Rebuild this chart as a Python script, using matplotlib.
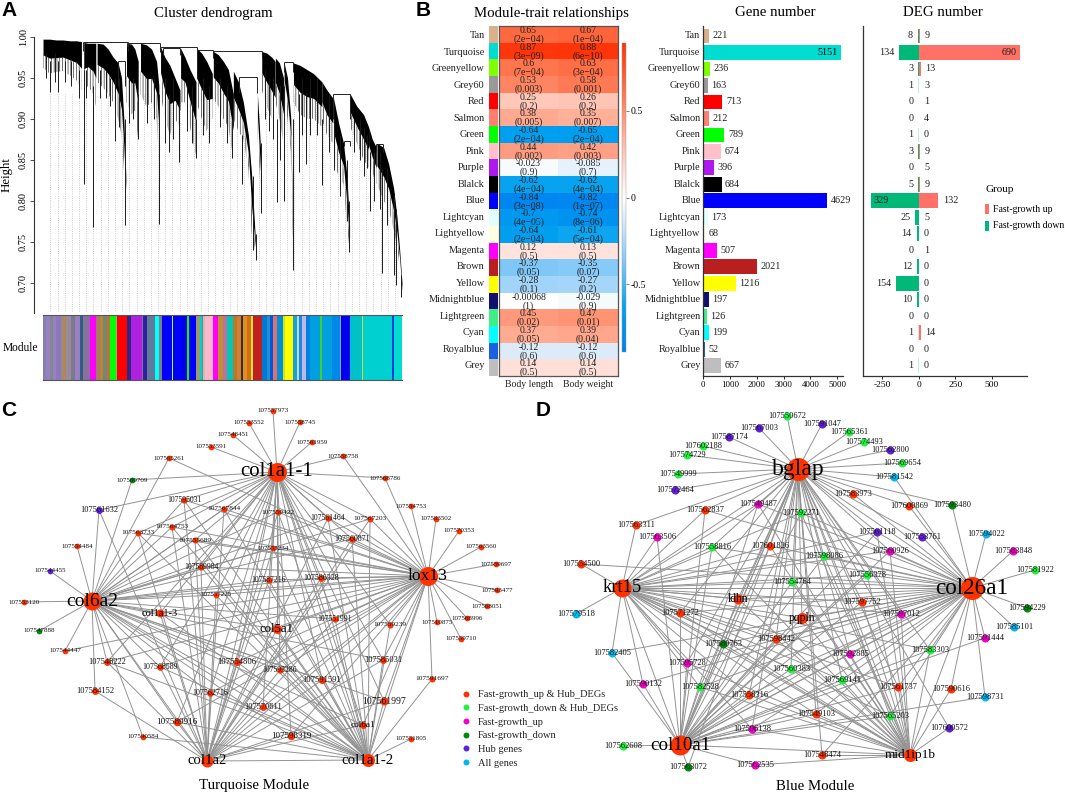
import numpy as np
import matplotlib
matplotlib.use('Agg')
import matplotlib.pyplot as plt
from matplotlib.collections import LineCollection
from matplotlib.colors import LinearSegmentedColormap, Normalize
from matplotlib.cm import ScalarMappable
from matplotlib.lines import Line2D

plt.rcParams['font.family'] = ['Liberation Serif', 'DejaVu Serif']
plt.rcParams['hatch.linewidth'] = 0.5

W, H = 1065, 795

clusters_x = [
    [130, 150, 170, 190, 210, 230, 245], [252, 265, 280, 288],
    [292, 310, 325, 340, 355, 365, 372, 378], [380, 395, 405, 415],
    [422, 440, 455, 470, 477], [482, 495, 510, 525, 540], [542, 555, 570, 588],
    [590, 605, 620, 637], [640, 655, 670, 685, 700],
    [700, 715, 730, 745, 755, 765, 770], [772, 778, 783], [785, 800, 815, 825],
    [826, 838, 850], [852, 862, 872, 878], [880, 900, 920, 940, 965],
    [965, 980, 998], [1000, 1015, 1030, 1040, 1048], [1050, 1070, 1090, 1105],
    [1105, 1116, 1128], [1130, 1150, 1165, 1180, 1190, 1198, 1205]]
clusters_top = [
    [.997, .997, .996, .996, .995, .995, .994], [.993, .992, .992, .992],
    [.992, .991, .985, .975, .968, .950, .900, .830], [.992, .991, .985, .970],
    [.992, .990, .985, .970, .940], [.988, .975, .965, .950, .935], [.986, .975, .960, .945],
    [.986, .980, .970, .955], [.982, .978, .970, .960, .930],
    [.958, .945, .920, .880, .830, .760, .730], [.930, .890, .850], [.982, .980, .975, .970],
    [.974, .968, .950], [.968, .950, .900, .750], [.968, .965, .960, .955, .945],
    [.945, .935, .925], [.925, .895, .870, .830, .770], [.930, .915, .905, .890],
    [.890, .875, .865], [.870, .865, .845, .815, .780, .740, .700]]
clusters_bot = [
    [.962, .955, .957, .958, .953, .947, .935], [.935, .940, .930, .915],
    [.945, .938, .930, .920, .900, .880, .840, .800], [.920, .905, .910, .875],
    [.930, .915, .920, .900, .850], [.930, .900, .880, .900, .890], [.920, .920, .890, .855],
    [.920, .900, .885, .900], [.925, .915, .900, .890, .850],
    [.900, .885, .875, .840, .760, .740, .730], [.880, .840, .800], [.935, .915, .900, .890],
    [.920, .900, .870], [.930, .900, .860, .720], [.920, .905, .900, .900, .890],
    [.900, .880, .870], [.850, .830, .820, .770, .740], [.890, .870, .850, .840],
    [.850, .835, .820], [.820, .800, .790, .765, .745, .720, .683]]
spike_x = [252, 281, 376, 476, 768, 878, 1047, 1146, 1180, 1188, 1203, 830, 851, 965, 725, 783, 760,
           152, 175, 237, 280, 345, 415, 508, 538, 588, 695, 897, 917, 1000, 1018, 1110, 1040, 1100,
           140, 165, 195, 215, 258, 300, 318, 330, 358, 388, 400, 440, 462, 495, 520, 560, 575, 610,
           628, 660, 680, 795, 808, 820, 840, 905, 930, 950, 985, 1062, 1078, 1090, 1122, 1138, 1160]
spike_low = [.820, .768, .770, .772, .728, .715, .737, .712, .710, .697, .682, .798, .800, .819, .820, .785, .740,
             .932, .932, .925, .900, .873, .875, .860, .847, .852, .852, .835, .845, .838, .806, .787, .775, .840,
             .950, .945, .945, .940, .925, .925, .925, .915, .890, .895, .900, .895, .900, .870, .875, .885, .870, .880,
             .870, .890, .870, .900, .885, .875, .850, .880, .880, .880, .860, .860, .850, .830, .800, .790, .770]
spike_high = [.960, .930, .900, .930, .760, .900, .800, .840, .810, .790, .710, .900, .940, .900, .880, .870, .830,
              .970, .970, .960, .940, .950, .930, .930, .920, .900, .900, .930, .930, .900, .880, .860, .850, .880,
              .980, .980, .970, .970, .960, .960, .960, .950, .950, .950, .950, .950, .950, .950, .950, .940, .940, .950,
              .940, .950, .940, .960, .950, .950, .940, .950, .950, .950, .930, .900, .900, .890, .860, .860, .840]
merge_x0 = [250, 380, 480, 590, 640, 717, 998, 1128, 1030, 355, 851, 490]
merge_x1 = [385, 480, 590, 640, 785, 770, 1050, 1148, 1048, 375, 880, 540]
merge_h = [.993, .992, .987, .984, .982, .951, .930, .869, .873, .970, .969, .986]
merge_drop = [.010, .004, .006, .004, .008, .020, .030, .010, .006, .030, .012, .008]

strip_edges = [130, 135, 140, 150, 160, 170, 185, 195, 200, 215, 225, 240, 250, 270, 290, 300, 310, 322, 330,
               348, 352, 382, 395, 425, 430, 440, 465, 478, 487, 515, 518, 545, 562, 568, 587, 600, 605, 610,
               615, 638, 655, 670, 680, 698, 710, 722, 728, 740, 752, 760, 785, 800, 810, 820, 830, 848, 855,
               878, 890, 897, 905, 917, 930, 958, 965, 995, 1018, 1022, 1050, 1085, 1088, 1150, 1152, 1175,
               1180, 1205]
strip_colors = ['#8f78b8', '#6f8fa8', '#9a80c0', '#808890', '#9a80c0', '#8c78c0', '#a08a70', '#c08040', '#9a8a9a',
                '#7a7a90', '#9a80c0', '#306080', '#8a70a0', '#ff00ff', '#a08060', '#c08040', '#708a70', '#c07040',
                '#00ff00', '#a0a0a0', '#ff0000', '#2a2a80', '#b020e0', '#8a70a0', '#3020a0', '#607a9a', '#00ffff',
                '#808080', '#0000ff', '#b0ff30', '#0000ff', '#0000e8', '#00ff00', '#0000ff', '#9a9a70', '#00d0d0',
                '#808080', '#c0c0c0', '#ffb6c8', '#ff00ff', '#c09030', '#c070a0', '#00c8b8', '#b87830', '#d08030',
                '#303030', '#e09020', '#d07010', '#f0e040', '#c02020', '#0078d8', '#2090d0', '#0058e0', '#e07070',
                '#0090d8', '#d8e020', '#ffff00', '#20a0d0', '#b0e0f0', '#2088e0', '#c0b8e8', '#0080e0', '#00a0e0',
                '#40d030', '#00a0e0', '#0088e8', '#a0a0b0', '#0000f0', '#00c0c8', '#c0e040', '#00d0d0', '#204040',
                '#00d0d0', '#0040e0', '#00ddd0']

# ---- B: modules
modules = ['Tan', 'Turquoise', 'Greenyellow', 'Grey60', 'Red', 'Salmon', 'Green', 'Pink', 'Purple', 'Blalck', 'Blue',
           'Lightcyan', 'Lightyellow', 'Magenta', 'Brown', 'Yellow', 'Midnightblue', 'Lightgreen', 'Cyan',
           'Royalblue', 'Grey']
module_colors = ['#d9b08c', '#00dccf', '#80ff00', '#999999', '#ff0000', '#ff8070', '#00ff00', '#ffc0cb', '#b018f0',
                 '#000000', '#0000ff', '#e0ffff', '#ffffe0', '#ff00ff', '#b82020', '#ffff00', '#101070', '#40ee88',
                 '#00ffff', '#1a60e0', '#bebebe']
length_r = [0.65, 0.87, 0.6, 0.53, 0.25, 0.38, -0.64, 0.44, -0.023, -0.62, -0.84, -0.7, -0.64, 0.12, -0.37, -0.28,
            -0.00068, 0.45, 0.37, -0.12, 0.14]
length_p = ['2e\u221204', '3e\u221209', '7e\u221204', '0.003', '0.2', '0.005', '2e\u221204', '0.002', '0.9', '4e\u221204',
            '3e\u221208', '4e\u221205', '2e\u221204', '0.5', '0.05', '0.1', '1', '0.02', '0.05', '0.6', '0.5']
weight_r = [0.67, 0.88, 0.63, 0.58, 0.26, 0.35, -0.65, 0.42, -0.085, -0.62, -0.82, -0.74, -0.61, 0.13, -0.35, -0.27,
            -0.029, 0.47, 0.39, -0.12, 0.14]
weight_p = ['1e\u221204', '6e\u221210', '3e\u221204', '0.001', '0.2', '0.007', '2e\u221204', '0.003', '0.7', '4e\u221204',
            '1e\u221207', '8e\u221206', '5e\u221204', '0.5', '0.07', '0.2', '0.9', '0.01', '0.04', '0.6', '0.5']
traits = ['Body length', 'Body weight']
gene_number = [221, 5151, 236, 163, 713, 212, 789, 674, 396, 684, 4629, 173, 68, 507, 2021, 1216, 197, 126, 199, 52, 667]
deg_up = [9, 690, 13, 3, 1, 4, 0, 9, 5, 9, 132, 5, 0, 1, 0, 0, 0, 0, 14, 0, 0]
deg_down = [8, 134, 3, 1, 0, 0, 1, 3, 0, 5, 329, 25, 14, 0, 12, 154, 10, 0, 1, 0, 1]

# ---- C, D: networks. links: which hubs a gene is tied to (a-e, the first five hubs)
c_hubs = ['col1a1-1', 'lox13', 'col6a2', 'col1a2', 'col1a1-2', 'col5a1', 'col1a1-3', 'col6a1']
c_hub_x = [277, 428, 92, 207, 368, 277, 160, 363]
c_hub_y = [472, 576, 601, 761, 760, 629, 613, 725]
c_hub_d = [19, 19, 18, 12, 13, 9, 8, 7]
c_hub_font = [15, 12.6, 14, 10.6, 10.7, 9.2, 7.5, 6.6]

c_names = ['107553120', '107547888', '107544455', '107554484', '107569709', '107561632', '107565261', '107553591',
           '107548451', '107553552', '107557973', '107558745', '107561959', '107558758', '107568786', '107554753',
           '107583502', '107570353', '107563560', '107559697', '107593477', '107568051', '107568996', '107559710',
           '107510875', '107559239', '107551991', '107585031', '107591697', '107561997', '107551805', '107591591',
           '107593286', '107570611', '107598319', '107589916', '107590584', '107584152', '107548222', '107544447',
           '107568589', '107562716', '107554806', '107557225', '107589984', '107555689', '107564753', '107563733',
           '107595031', '107567844', '107559422', '107553234', '107587216', '107561464', '107567203', '107560871',
           '107586328']
c_x = [24, 39, 50, 77, 132, 99, 169, 211, 233, 249, 273, 300, 312, 343, 385, 411, 436, 459, 481, 496, 497, 487, 467,
       461, 437, 390, 335, 383, 432, 384, 411, 322, 280, 263, 291, 177, 143, 95, 107, 65, 160, 210, 237, 216, 201, 195,
       172, 138, 184, 224, 278, 273, 269, 328, 370, 352, 321]
c_y = [602, 631, 571, 546, 480, 510, 458, 447, 435, 423, 411, 422, 442, 456, 478, 506, 519, 531, 547, 564, 590, 606,
       618, 639, 622, 625, 619, 660, 679, 701, 739, 680, 670, 707, 736, 722, 737, 691, 662, 651, 667, 693, 662, 595,
       567, 540, 527, 533, 500, 509, 512, 548, 580, 518, 519, 539, 578]
c_groups = ['up_hub', 'down', 'hub', 'up_hub', 'down', 'hub'] + ['up_hub'] * 51
c_links = ['c', 'c', 'c', 'c', 'ac', 'acd', 'cb', 'a', 'a', 'a', 'a', 'a', 'a', 'ab', 'ab', 'b',
           'b', 'b', 'b', 'b', 'b', 'b', 'b', 'b', 'b', 'abe', 'abcde', 'abcde', 'be', 'abcde', 'e', 'abcde',
           'abcde', 'abcde', 'abcde', 'abcde', 'ce', 'cd', 'abcde', 'cb', 'abcde', 'abcde', 'abcde', 'abcde', 'abcde',
           'abcde', 'abcde', 'abcde', 'abcde', 'abcde', 'abcde', 'abcde', 'abcde', 'abcde', 'abcde', 'abcde', 'abcde']
c_font = [5, 5, 5, 5, 5, 6, 5, 5, 5, 5, 5, 5, 5, 5, 5, 5, 5, 5, 5, 5, 5, 5, 5, 5, 5, 5.3, 5.5, 6, 5.3, 7, 5, 6.2,
          5.5, 6, 6.5, 6.6, 5, 6, 6, 5, 5.8, 5.8, 6.2, 5, 5.5, 5.3, 5.3, 5.3, 5.5, 5.3, 5.3, 5, 5.5, 5.5, 5.3, 5.8, 5.8]

d_hubs = ['bglap', 'krt15', 'col26a1', 'col10a1', 'mid1ip1b', 'ldhn', 'pqpln']
d_hub_x = [798, 622, 972, 680, 910, 738, 802]
d_hub_y = [469, 588, 588, 745, 755, 599, 618]
d_hub_d = [23, 18, 23, 20, 13, 10, 11]
d_hub_font = [17, 13.3, 16.7, 13.7, 9.5, 8.4, 8.4]

d_names = ['107550672', '107567003', '107587174', '107602188', '107574729', '107549999', '107572464', '107562837',
           '107549487', '107592271', '107563311', '107563506', '107558816', '107601826', '107554500', '107554764',
           '107579518', '107571272', '107580763', '107598442', '107582405', '107595728', '107590132', '107582528',
           '107558316', '107560383', '107596138', '107562608', '107563072', '107562535', '107591047', '107565361',
           '107574493', '107562800', '107569654', '107581542', '107583973', '107600869', '107593480', '107561118',
           '107553761', '107594022', '107583848', '107581922', '107560926', '107598086', '107556378', '107594229',
           '107597752', '107597012', '107585101', '107591444', '107583303', '107592885', '107569141', '107561737',
           '107590616', '107598731', '107565203', '107549103', '107600572', '107548474']
d_x = [787, 759, 729, 703, 687, 678, 675, 705, 758, 801, 636, 657, 712, 770, 581, 792, 576, 680, 723, 776, 612, 687,
       643, 700, 749, 791, 752, 623, 688, 755, 822, 849, 864, 890, 902, 894, 853, 909, 952, 877, 922, 986, 1013, 1035,
       890, 824, 867, 1027, 862, 901, 1014, 985, 930, 850, 842, 898, 951, 985, 890, 816, 949, 822]
d_y = [416, 428, 437, 446, 455, 474, 490, 510, 504, 513, 525, 537, 547, 546, 564, 582, 614, 613, 644, 639, 653, 663,
       684, 687, 695, 669, 729, 746, 767, 765, 424, 432, 442, 450, 463, 477, 494, 506, 505, 532, 537, 534, 551, 570,
       551, 556, 575, 608, 602, 614, 627, 638, 650, 654, 680, 687, 689, 697, 716, 714, 728, 755]
d_groups = ['down_hub', 'hub', 'hub', 'down_hub', 'down_hub', 'down_hub', 'hub', 'up_hub', 'up', 'down_hub', 'up_hub',
            'up', 'down_hub', 'up_hub', 'up_hub', 'down_hub', 'all', 'up_hub', 'down', 'up_hub', 'all', 'up', 'up',
            'down_hub', 'up_hub', 'down_hub', 'up', 'down_hub', 'down', 'up', 'hub', 'down_hub', 'down_hub', 'hub',
            'down_hub', 'all', 'up_hub', 'up_hub', 'down', 'hub', 'hub', 'all', 'up', 'down_hub', 'up', 'down_hub',
            'down_hub', 'down', 'up_hub', 'up', 'all', 'up', 'down_hub', 'up', 'down_hub', 'up_hub', 'up_hub', 'all',
            'down_hub', 'up_hub', 'hub', 'up_hub']
d_links = ['a', 'a', 'a', 'a', 'a', 'a', 'a', 'abcd', 'abcde', 'abcde', 'ab', 'bd', 'abcde', 'abcde', 'bc', 'abcde',
           'b', 'abcde', 'abcde', 'abcde', 'bdc', 'abcde', 'bdc', 'abcde', 'abcde', 'abcde', 'abcde', 'd', 'da', 'de',
           'a', 'a', 'a', 'a', 'a', 'ac', 'ac', 'ac', 'ac', 'abcde', 'ac', 'c', 'c', 'c', 'abcde', 'abcde', 'abcde',
           'c', 'abcde', 'abcde', 'c', 'cd', 'abcde', 'abcde', 'abcde', 'abcde', 'ce', 'cd', 'abcde', 'abcde', 'ae',
           'ace']
d_font = [6] * 62

group_keys = ['up_hub', 'down_hub', 'up', 'down', 'hub', 'all']
group_labels = ['Fast-growth_up & Hub_DEGs', 'Fast-growth_down & Hub_DEGs', 'Fast-growth_up', 'Fast-growth_down',
                'Hub genes', 'All genes']
group_colors = ['#ff3300', '#22f040', '#f000c8', '#008a10', '#6020d8', '#00b8f0']
group_color = dict(zip(group_keys, group_colors))

# heatmap colours picked from the cells, not a stock map
heat_max = 0.89
heat_stops = [(-0.89, '#0080f0'), (-0.64, '#00a0f0'), (-0.37, '#80c8f8'), (-0.12, '#dcecfb'), (0, '#ffffff'),
              (0.14, '#ffe0d8'), (0.25, '#ffc8b8'), (0.45, '#ff9a7c'), (0.65, '#ff6a40'), (0.89, '#ff3308')]
heat_cmap = LinearSegmentedColormap.from_list(
    'heat', [((v + heat_max) / (2 * heat_max), c) for v, c in heat_stops])
heat_norm = Normalize(-heat_max, heat_max)


def axes_px(x0, y0, x1, y1):
    return fig.add_axes([x0 / W, 1 - y1 / H, (x1 - x0) / W, (y1 - y0) / H])


def draw_network(ax, hub_names, hub_x, hub_y, hub_d, hub_font, names, xs, ys, groups, links, fonts, node_scale):
    segs = []
    hub_codes = 'abcde'
    for i in range(len(names)):
        for code in links[i]:
            h = hub_codes.index(code)
            segs.append([(xs[i], ys[i]), (hub_x[h], hub_y[h])])
    # hubs are also tied to each other
    for i in range(len(hub_names)):
        for j in range(i + 1, len(hub_names)):
            if j < 5 or i < 5:
                segs.append([(hub_x[i], hub_y[i]), (hub_x[j], hub_y[j])])
    ax.add_collection(LineCollection(segs, colors='#939393', linewidths=0.7, zorder=1))
    for i in range(len(names)):
        d = fonts[i] * node_scale * 0.72
        ax.scatter(xs[i], ys[i], s=d ** 2, color=group_color[groups[i]], linewidths=0, zorder=2)
        ax.text(xs[i], ys[i], names[i], fontsize=fonts[i], ha='center', va='center', color='#111111', zorder=3)
    for i in range(len(hub_names)):
        d = hub_d[i] * 0.72
        ax.scatter(hub_x[i], hub_y[i], s=d ** 2, color=group_color['up_hub'], linewidths=0, zorder=2)
        ax.text(hub_x[i], hub_y[i], hub_names[i], fontsize=hub_font[i], ha='center', va='center', color='black',
                zorder=3)


fig = plt.figure(figsize=(W / 100, H / 100), dpi=100)
dark = '#333333'

# overlay in figure pixels for networks and free text
ov = fig.add_axes([0, 0, 1, 1], zorder=5)
ov.set_xlim(0, W)
ov.set_ylim(H, 0)
ov.axis('off')
ov.patch.set_alpha(0)

for label, x, y in [('A', 9, 11), ('B', 423, 11), ('C', 9, 411), ('D', 543, 411)]:
    ov.text(x, y, label, fontsize=15, fontweight='bold', family='Liberation Sans', ha='center', va='center')
for label, x, y in [('Cluster dendrogram', 213, 13), ('Module-trait relationships', 551, 14), ('Gene number', 775, 13),
                    ('DEG number', 943, 13), ('Turquoise Module', 254, 786), ('Blue Module', 815, 786)]:
    ov.text(x, y, label, fontsize=10.7, ha='center', va='center')

# A
ax = axes_px(34, 36.7, 402, 313)
ax.set_xlim(103, 1205)
ax.set_ylim(1 - (313 - 36.7) / 820, 1.0)
env_x = [c for xs in clusters_x for c in xs]
env_h = [c for ts in clusters_top for c in ts]
dot_x = np.arange(152, 1206, 21.5)
dot_top = np.minimum(np.interp(dot_x, env_x, env_h), 0.93)
ax.vlines(dot_x, ax.get_ylim()[0] + 0.003, dot_top, colors='#b8b8b8', linestyles=':', linewidth=0.6, zorder=1)
for xs, ts, bs in zip(clusters_x, clusters_top, clusters_bot):
    ts = np.array(ts)
    bs = np.array(bs)
    # solid crown on top, the lower part of each branch is a comb of single leaves
    solid = ts - (ts - bs) * 0.55
    ax.fill_between(xs, bs, solid, facecolor='none', edgecolor='#333333', hatch='||||||', linewidth=0, zorder=2)
    ax.fill_between(xs, solid, ts, color='black', linewidth=0, zorder=3)
ax.vlines(spike_x, spike_low, spike_high, colors='#1a1a1a', linewidth=0.7, zorder=3)
ax.hlines(merge_h, merge_x0, merge_x1, colors='#222222', linewidth=0.7, zorder=4)
ax.vlines(merge_x0, np.array(merge_h) - np.array(merge_drop), merge_h, colors='#222222', linewidth=0.7, zorder=4)
ax.vlines(merge_x1, np.array(merge_h) - np.array(merge_drop), merge_h, colors='#222222', linewidth=0.7, zorder=4)
for s in ['top', 'right', 'bottom']:
    ax.spines[s].set_visible(False)
ax.spines['left'].set_color(dark)
ax.spines['left'].set_linewidth(0.8)
ax.set_xticks([])
ax.set_yticks([0.70, 0.75, 0.80, 0.85, 0.90, 0.95, 1.00])
ax.set_yticklabels(['0.70', '0.75', '0.80', '0.85', '0.90', '0.95', '1.00'], rotation=90, va='center', fontsize=7.5)
ax.tick_params(axis='y', length=3, width=0.6, pad=1.5, color=dark)
ov.text(7, 175, 'Height', rotation=90, fontsize=9.3, ha='center', va='center')
ov.text(20, 348, 'Module', fontsize=8.3, ha='center', va='center')

ax = axes_px(43, 315, 402, 379.5)
ax.bar(strip_edges[:-1], 1, width=np.diff(strip_edges), align='edge', color=strip_colors, linewidth=0)
ax.set_xlim(130, 1205)
ax.set_ylim(0, 1)
ax.set_xticks([])
ax.set_yticks([])
for s in ['left', 'right']:
    ax.spines[s].set_visible(False)
for s in ['top', 'bottom']:
    ax.spines[s].set_color('#555555')
    ax.spines[s].set_linewidth(0.8)

# B heatmap
rows = np.arange(len(modules))
row_lim = (20.62, -0.606)  # label/bar rows run a little tighter than the heat cells

ax = axes_px(489, 26, 497.5, 376)
ax.bar(0, 1, bottom=rows, width=1, align='edge', color=module_colors, linewidth=0)
ax.set_xlim(0, 1)
ax.set_ylim(21, 0)
ax.axis('off')

ax = axes_px(440, 26, 488, 376)
ax.set_ylim(*row_lim)
ax.set_xlim(0, 1)
ax.patch.set_alpha(0)
for s in ax.spines.values():
    s.set_visible(False)
ax.set_xticks([])
ax.set_yticks([])
for i, name in enumerate(modules):
    ax.text(0.93, i, name, fontsize=7.4, ha='right', va='center', color='#222222', clip_on=False)

ax = axes_px(499, 26, 617.5, 376)
heat = np.column_stack([length_r, weight_r])
ax.imshow(heat, cmap=heat_cmap, norm=heat_norm, aspect='auto', interpolation='nearest', extent=(0, 2, 21, 0))
for i in rows:
    for j, (rs, ps) in enumerate([(length_r, length_p), (weight_r, weight_p)]):
        ax.text(j + 0.5, i + 0.27, str(rs[i]), fontsize=7, ha='center', va='center', color='#222222')
        ax.text(j + 0.5, i + 0.79, '(' + ps[i] + ')', fontsize=7, ha='center', va='center', color='#222222')
ax.set_yticks([])
ax.set_xticks([0.5, 1.5])
ax.set_xticklabels(traits, fontsize=7, color='#222222')
ax.tick_params(axis='x', length=0, pad=3)
for s in ax.spines.values():
    s.set_color('#555555')
    s.set_linewidth(0.9)

cax = axes_px(621.5, 43, 626.5, 352)
cb = fig.colorbar(ScalarMappable(norm=heat_norm, cmap=heat_cmap), cax=cax)
cb.set_ticks([-0.5, 0, 0.5])
cb.set_ticklabels(['-0.5', '0', '0.5'])
cb.ax.tick_params(length=2, width=0.5, labelsize=7, pad=1, color='#444444')
cb.outline.set_linewidth(0.3)
cb.outline.set_edgecolor('#999999')

# B gene number
ax = axes_px(703.3, 26, 843, 376)
ax.barh(rows, gene_number, height=0.9, color=module_colors, linewidth=0)
ax.set_xlim(0, 5213)
ax.set_ylim(*row_lim)
for i, v in enumerate(gene_number):
    if v > 5000:
        ax.annotate(str(v), (v, i), xytext=(-2.5, 0), textcoords='offset points', ha='right', va='center', fontsize=7.3)
    else:
        ax.annotate(str(v), (v, i), xytext=(2.5, 0), textcoords='offset points', ha='left', va='center', fontsize=7.3,
                    color='#222222')
ax.set_yticks([])
ax.set_xticks([0, 1000, 2000, 3000, 4000, 5000])
ax.tick_params(axis='x', labelsize=6.3, length=2, width=0.6, pad=1.5)
for s in ['top', 'right']:
    ax.spines[s].set_visible(False)
for s in ['left', 'bottom']:
    ax.spines[s].set_color(dark)
    ax.spines[s].set_linewidth(0.9)
for i, name in enumerate(modules):
    ax.annotate(name, (0, i), xytext=(-2, 0), textcoords='offset points', ha='right', va='center', fontsize=7.4,
                color='#222222', annotation_clip=False)

# B DEG number
up_color = '#ff7066'
down_color = '#00b878'
ax = axes_px(862.7, 26, 1027, 376)
ax.barh(rows, deg_up, height=0.9, color=up_color, linewidth=0)
ax.barh(rows, [-v for v in deg_down], height=0.9, color=down_color, linewidth=0)
# the tiny counts still show as a pale sliver
ax.barh(rows, [2 if v > 0 else 0 for v in deg_up], height=0.9, color=up_color, alpha=0.35, linewidth=0)
ax.barh(rows, [-5 if v > 0 else 0 for v in deg_down], height=0.9, color=down_color, alpha=0.25, linewidth=0)
ax.set_xlim(-383, 741)
ax.set_ylim(*row_lim)
for i in rows:
    if deg_up[i] > 500:
        ax.annotate(str(deg_up[i]), (deg_up[i], i), xytext=(-2, 0), textcoords='offset points', ha='right', va='center',
                    fontsize=7.3, color='#222222')
    else:
        ax.annotate(str(deg_up[i]), (deg_up[i], i), xytext=(3.5, 0), textcoords='offset points', ha='left', va='center',
                    fontsize=7.3, color='#222222')
    if deg_down[i] > 300:
        ax.annotate(str(deg_down[i]), (-deg_down[i], i), xytext=(2, 0), textcoords='offset points', ha='left', va='center',
                    fontsize=7.3, color='#222222')
    else:
        ax.annotate(str(deg_down[i]), (-deg_down[i], i), xytext=(-3.5, 0), textcoords='offset points', ha='right',
                    va='center', fontsize=7.3, color='#222222')
ax.set_yticks([])
ax.set_xticks([-250, 0, 250, 500])
ax.set_xticklabels(['-250', '0', '250', '500'])
ax.tick_params(axis='x', labelsize=6.8, length=2, width=0.6, pad=1.5)
for s in ['top', 'right']:
    ax.spines[s].set_visible(False)
for s in ['left', 'bottom']:
    ax.spines[s].set_color(dark)
    ax.spines[s].set_linewidth(0.9)

ov.text(985, 190, 'Group', fontsize=8, ha='left', va='center')
ov.bar([987, 987], [9.5, 10], bottom=[204, 221], width=4, color=[up_color, down_color], linewidth=0)
ov.text(993, 209, 'Fast-growth up', fontsize=7, ha='left', va='center')
ov.text(993, 226, 'Fast-growth down', fontsize=7, ha='left', va='center')

# C, D networks
draw_network(ov, c_hubs, c_hub_x, c_hub_y, c_hub_d, c_hub_font, c_names, c_x, c_y, c_groups, c_links, c_font, 1.15)
draw_network(ov, d_hubs, d_hub_x, d_hub_y, d_hub_d, d_hub_font, d_names, d_x, d_y, d_groups, d_links, d_font, 1.35)

handles = [Line2D([], [], marker='o', linestyle='', color=c, markersize=4.3, markeredgewidth=0) for c in group_colors]
ov.legend(handles, group_labels, loc='upper left', bbox_to_anchor=(456, 690), bbox_transform=ov.transData,
          frameon=False, fontsize=7.5, labelspacing=0.42, handletextpad=0.1, borderpad=0, borderaxespad=0,
          labelcolor='#222222')

fig.savefig('out.png', dpi=100)
